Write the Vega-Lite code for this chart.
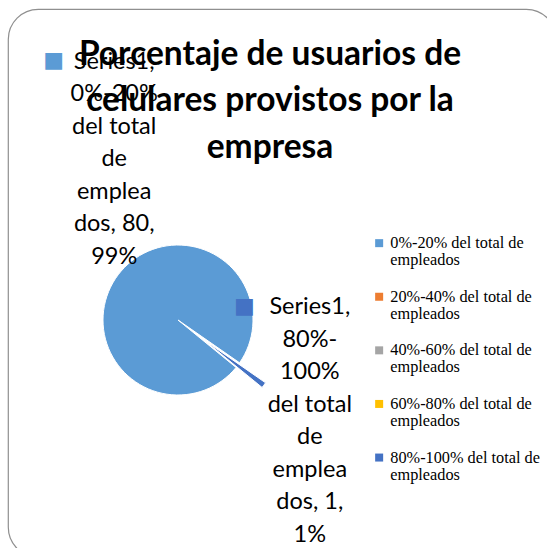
{
  "$schema": "https://vega.github.io/schema/vega-lite/v6.json",
  "autosize": "none",
  "padding": {"left": 8, "top": 9, "right": -9, "bottom": -9},
  "width": 548,
  "height": 548,
  "background": "white",
  "title": {
    "text": ["Porcentaje de usuarios de", "celulares provistos por la", "empresa"],
    "font": "Lato",
    "fontSize": 33.5,
    "fontWeight": "bold",
    "color": "#000000",
    "lineHeight": 46.5,
    "anchor": "start",
    "align": "center",
    "baseline": "top",
    "orient": "top",
    "offset": 0,
    "dx": 262,
    "dy": 156
  },
  "data": {
    "values": [
      {"cat": "0%-20% del total de empleados", "value": 80, "label": "Series1,\n0%-20%\ndel total\nde\nemplea\ndos, 80,\n99%"},
      {"cat": "20%-40% del total de empleados", "value": 0, "label": ""},
      {"cat": "40%-60% del total de empleados", "value": 0, "label": ""},
      {"cat": "60%-80% del total de empleados", "value": 0, "label": ""},
      {"cat": "80%-100% del total de empleados", "value": 1, "label": "Series1,\n80%-\n100%\ndel total\nde\nemplea\ndos, 1,\n1%"}
    ]
  },
  "encoding": {
    "theta": {"field": "value", "type": "quantitative", "stack": true, "scale": {"range": [2.256, 8.5392]}}
  },
  "layer": [
    {
      "mark": {"type": "arc", "outerRadius": 75, "stroke": "white", "strokeWidth": 1},
      "encoding": {
        "x": {"value": 170},
        "y": {"value": 311},
        "color": {
          "field": "cat", "type": "nominal",
          "scale": {
            "domain": ["0%-20% del total de empleados", "20%-40% del total de empleados", "40%-60% del total de empleados", "60%-80% del total de empleados", "80%-100% del total de empleados"],
            "range": ["#5B9BD5", "#ED7D31", "#A5A5A5", "#FFC000", "#4472C4"]
          },
          "legend": {
            "orient": "none",
            "legendX": 363,
            "legendY": 226,
            "title": null,
            "symbolType": "square",
            "symbolSize": 64,
            "symbolStrokeWidth": 0,
            "labelFont": "Liberation Serif",
            "labelFontSize": 16.3,
            "labelColor": "#000000",
            "labelLimit": 200,
            "labelBaseline": "middle",
            "labelExpr": "split(replace(datum.label, ' empleados', '|empleados'), '|')",
            "rowPadding": 19.6,
            "labelOffset": 3
          }
        },
        "opacity": {"condition": {"test": "datum.value < 5", "value": 0}, "value": 1}
      }
    },
    {
      "mark": {"type": "arc", "outerRadius": 75, "stroke": "white", "strokeWidth": 1},
      "encoding": {
        "x": {"value": 196},
        "y": {"value": 331},
        "color": {"field": "cat", "type": "nominal"},
        "opacity": {"condition": {"test": "datum.cat === '80%-100% del total de empleados'", "value": 1}, "value": 0}
      }
    },
    {
      "mark": {"type": "text", "font": "Lato", "fontSize": 23.5, "color": "#000000", "lineBreak": "\n", "lineHeight": 32.5, "align": "center", "baseline": "middle", "radius": 100, "dx": 16, "dy": -198},
      "encoding": {
        "x": {"value": 170},
        "y": {"value": 311},
        "text": {"condition": {"test": "datum.cat === '0%-20% del total de empleados'", "field": "label"}, "value": ""}
      }
    },
    {
      "mark": {"type": "text", "font": "Lato", "fontSize": 23.5, "color": "#000000", "lineBreak": "\n", "lineHeight": 32.5, "align": "center", "baseline": "middle", "radius": 100, "dx": 52, "dy": -73},
      "encoding": {
        "x": {"value": 170},
        "y": {"value": 311},
        "text": {"condition": {"test": "datum.cat === '80%-100% del total de empleados'", "field": "label"}, "value": ""}
      }
    },
    {
      "mark": {"type": "text", "font": "DejaVu Sans", "fontSize": 22, "color": "#5B9BD5", "align": "center", "baseline": "middle", "radius": 100, "dx": -44.5, "dy": -199.5},
      "encoding": {
        "x": {"value": 170},
        "y": {"value": 311},
        "text": {"condition": {"test": "datum.cat === '0%-20% del total de empleados'", "value": "■"}, "value": ""}
      }
    },
    {
      "mark": {"type": "text", "font": "DejaVu Sans", "fontSize": 22, "color": "#4472C4", "align": "center", "baseline": "middle", "radius": 100, "dx": -13.5, "dy": -74.5},
      "encoding": {
        "x": {"value": 170},
        "y": {"value": 311},
        "text": {"condition": {"test": "datum.cat === '80%-100% del total de empleados'", "value": "■"}, "value": ""}
      }
    }
  ],
  "config": {
    "view": {"stroke": "#8f8f8f", "strokeWidth": 1.2, "cornerRadius": 30},
    "style": {"guide-label": {"lineHeight": 17}}
  }
}
